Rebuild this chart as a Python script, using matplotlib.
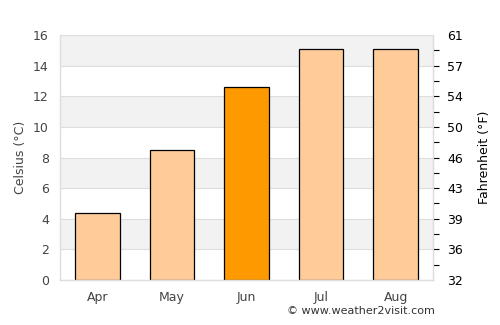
import matplotlib
matplotlib.use("Agg")
import matplotlib.pyplot as plt

months = ["Apr", "May", "Jun", "Jul", "Aug"]
celsius = [4.4, 8.5, 12.6, 15.1, 15.1]
highlight = "Jun"
c_ticks = [0, 2, 4, 6, 8, 10, 12, 14, 16]
f_labels = ["32", "36", "39", "43", "46", "50", "54", "57", "61"]

light = "#ffcc99"
strong = "#ff9900"
txt = "#444444"

fig = plt.figure(figsize=(5, 3.25), dpi=100)
ax = fig.add_axes([0.12, 0.1385, 0.746, 0.7535])

ax.set_xlim(-0.5, len(months) - 0.5)
ax.set_ylim(0, 16)

for i in range(0, 16, 2):
    if (i // 2) % 2 == 1:
        ax.axhspan(i, i + 2, color="#f2f2f2", zorder=0, lw=0)
for t in c_ticks:
    ax.axhline(t, color="#dddddd", lw=0.8, zorder=0.5)

colors = [strong if m == highlight else light for m in months]
ax.bar(range(len(months)), celsius, width=0.6, color=colors,
       edgecolor="black", linewidth=0.9, zorder=2)

ax.set_xticks(range(len(months)))
ax.set_xticklabels(months, color=txt, fontsize=9)
ax.set_yticks(c_ticks)
ax.set_yticklabels([str(t) for t in c_ticks], color=txt, fontsize=9)
ax.tick_params(axis="both", length=0, pad=8)
ax.set_ylabel("Celsius (°C)", color=txt, fontsize=9)

ax.spines["top"].set_visible(False)
for s in ["left", "bottom", "right"]:
    ax.spines[s].set_color("#dddddd")
    ax.spines[s].set_linewidth(1)

ax2 = ax.twinx()
ax2.set_ylim(0, 16)
ax2.set_yticks(c_ticks)
ax2.set_yticklabels(f_labels, color="black", fontsize=9)
ax2.yaxis.remove_overlapping_locs = False
ax2.set_yticks(range(1, 16), minor=True)
ax2.tick_params(axis="y", which="minor", length=4, width=0.8, color="black")
ax2.tick_params(axis="y", which="major", length=0, pad=10)
ax2.set_ylabel("Fahrenheit (°F)", color="black", fontsize=9, labelpad=11)
for s in ["top", "left", "bottom"]:
    ax2.spines[s].set_visible(False)
ax2.spines["right"].set_color("#dddddd")

fig.text(0.87, 0.028, "© www.weather2visit.com", ha="right", va="bottom",
         fontsize=8, color="#333333")

fig.savefig("out.png", dpi=100)
